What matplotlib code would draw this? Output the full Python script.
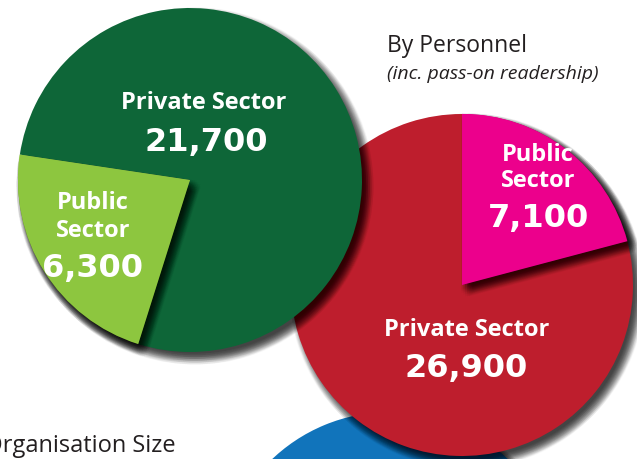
import matplotlib
matplotlib.use("Agg")
import matplotlib.pyplot as plt

# readership split, two pies
sector_labels = ["Public\nSector", "Private Sector"]
by_org_values = [6300, 21700]          # green pie
by_personnel_values = [7100, 26900]    # red pie
org_colors = ["#8DC63F", "#0E6638"]
pers_colors = ["#EC008C", "#BE1E2D"]
blue = "#1174BB"

W, H = 637, 459

# offsets used to fake a blurred drop shadow
blur = [(i, j) for i in range(-3, 4) for j in range(-3, 4) if i * i + j * j <= 10]


def shadow(ax, vals, center, r, start, ccw, explode, keep=None, dx=5, dy=6):
    cols = ["#000000"] * len(vals)
    if keep is not None:
        cols = ["#000000" if i == keep else "none" for i in range(len(vals))]
    for bx, by in blur:
        rad = r + 1
        ax.pie(vals, center=(center[0] + dx + 1.8 * bx, center[1] - dy + 1.8 * by),
               radius=rad, startangle=start, counterclock=ccw,
               explode=[e * r / rad for e in explode], colors=cols,
               wedgeprops=dict(linewidth=0, alpha=0.032))


def pie(ax, vals, center, r, start, ccw, explode, colors):
    ax.pie(vals, center=center, radius=r, startangle=start, counterclock=ccw,
           explode=explode, colors=colors, wedgeprops=dict(linewidth=0))


fig = plt.figure(figsize=(W / 100, H / 100), dpi=100)
ax = fig.add_axes([0, 0, 1, 1])

# blue pie (mostly off the bottom edge)
blue_c, blue_r = (390, H - 583), 171
shadow(ax, [1], blue_c, blue_r, 90, False, [0])
pie(ax, [1], blue_c, blue_r, 90, False, [0], [blue])

# red pie - by personnel
red_c, red_r = (462, H - 285), 171
red_ex = [0.07, 0]
shadow(ax, by_personnel_values, red_c, red_r, 90, False, red_ex)
pie(ax, by_personnel_values, red_c, red_r, 90, False, red_ex, pers_colors)
shadow(ax, by_personnel_values, red_c, red_r, 90, False, red_ex, keep=0)
pie(ax, by_personnel_values, red_c, red_r, 90, False, red_ex,
    [pers_colors[0], "none"])

# green pie - by organisation
grn_c, grn_r = (190, H - 180), 172
grn_ex = [0.047, 0]
shadow(ax, by_org_values, grn_c, grn_r, 171.5, True, grn_ex)
pie(ax, by_org_values, grn_c, grn_r, 171.5, True, grn_ex, org_colors)
shadow(ax, by_org_values, grn_c, grn_r, 171.5, True, grn_ex, keep=0)
pie(ax, by_org_values, grn_c, grn_r, 171.5, True, grn_ex,
    [org_colors[0], "none"])

ax.set_xlim(0, W)
ax.set_ylim(0, H)
ax.axis("off")

word = dict(color="white", fontweight="bold", family="Open Sans", fontsize=17,
            ha="center", va="center", zorder=10)
num = dict(color="white", fontweight="bold", family="DejaVu Sans", fontsize=23,
           ha="center", va="center", zorder=10)


def stack(x, ys, label):
    for y, line in zip(ys, label.split("\n")):
        ax.text(x, H - y, line, **word)


# green labels
stack(204, [103], sector_labels[1])
ax.text(206, H - 142, "{:,}".format(by_org_values[1]), **num)
stack(93, [203, 231], sector_labels[0])
ax.text(92, H - 269, "{:,}".format(by_org_values[0]), **num)

# red labels
stack(467, [330], sector_labels[1])
ax.text(466, H - 369, "{:,}".format(by_personnel_values[1]), **num)
stack(538, [155, 181], sector_labels[0])
ax.text(539, H - 218, "{:,}".format(by_personnel_values[0]), **num)

# headings
ax.text(387, H - 46, "By Personnel", fontsize=16.5, family="Open Sans",
        color="#231F20", ha="left", va="center")
ax.text(387, H - 74, "(inc. pass-on readership)", fontsize=14,
        family="Open Sans", style="italic", color="#231F20",
        ha="left", va="center")
ax.text(176, H - 446, "By Organisation Size", fontsize=17, family="Open Sans",
        color="#231F20", ha="right", va="center")

fig.savefig("out.png", dpi=100)
